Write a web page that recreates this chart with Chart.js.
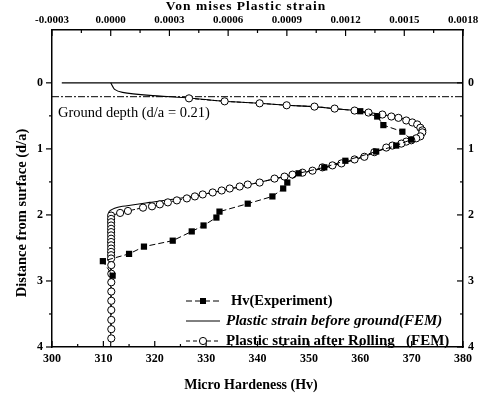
<!DOCTYPE html>
<html>
<head>
<meta charset="utf-8">
<script src="https://cdn.jsdelivr.net/npm/chart.js@4.4.1/dist/chart.umd.min.js"></script>
<style>
  html, body { margin: 0; padding: 0; background: #fff; }
  #wrap { width: 487px; height: 399px; }
</style>
</head>
<body>
<div id="wrap"><canvas id="mainChart" width="487" height="399"></canvas></div>
<script>
// --- values ---
// Hv (experiment), depth d/a vs micro hardness
const hvValues = [360.0, 363.3, 364.5, 368.2, 369.9, 367.0, 363.1, 357.1, 353.0, 348.0, 345.8, 345.0,
                  342.9, 338.1, 332.6, 332.0, 329.5, 327.2, 323.5, 317.9, 315.0, 309.9, 311.8];
const hvDepth = [0.43, 0.51, 0.64, 0.74, 0.86, 0.95, 1.04, 1.18, 1.28, 1.37, 1.51, 1.60,
                 1.72, 1.83, 1.95, 2.04, 2.16, 2.25, 2.39, 2.48, 2.59, 2.70, 2.92];

// plastic strain after rolling (FEM), open circles
const afterStrain = [0.00040, 0.000582, 0.000761, 0.000899, 0.001041, 0.001144, 0.001246, 0.001317,
  0.001388, 0.001434, 0.00147, 0.00151, 0.001541, 0.001566, 0.001582, 0.001592, 0.001592, 0.001582,
  0.001561, 0.001536, 0.00151, 0.001485, 0.001439, 0.001408, 0.001347, 0.001296, 0.001246, 0.001179,
  0.001133, 0.001082, 0.001031, 0.00098, 0.000929, 0.000888, 0.000837, 0.000761, 0.0007, 0.000659,
  0.000608, 0.000567, 0.000521, 0.00047, 0.00043, 0.000389, 0.000338, 0.000292, 0.000251, 0.000211,
  0.000165, 0.000088, 0.000048, 0.000002,
  0.000002, 0.000002, 0.000002, 0.000002, 0.000002, 0.000002, 0.000002, 0.000002, 0.000002, 0.000002,
  0.000002, 0.000002, 0.000002,
  0.000003, 0.000003, 0.000003, 0.000003, 0.000003, 0.000003, 0.000003, 0.000003, 0.000003];
const afterDepth = [0.235, 0.28, 0.31, 0.34, 0.36, 0.39, 0.42, 0.45,
  0.48, 0.51, 0.53, 0.57, 0.60, 0.63, 0.68, 0.72, 0.75, 0.81,
  0.84, 0.87, 0.89, 0.92, 0.95, 0.98, 1.05, 1.12, 1.16, 1.22,
  1.25, 1.28, 1.33, 1.36, 1.39, 1.42, 1.45, 1.51, 1.54, 1.57,
  1.60, 1.63, 1.66, 1.69, 1.72, 1.75, 1.78, 1.81, 1.84, 1.87,
  1.89, 1.94, 1.97, 2.01,
  2.06, 2.11, 2.16, 2.21, 2.26, 2.31, 2.36, 2.41, 2.46, 2.51,
  2.56, 2.61, 2.66,
  2.76, 2.89, 3.02, 3.16, 3.30, 3.44, 3.59, 3.73, 3.87];

// plastic strain before ground (FEM), solid line
const beforeStrain = [0, 0.00002, 0.00006, 0.0002, 0.0004, 0.00058, 0.00076, 0.0009, 0.00104, 0.00114,
  0.00125, 0.00132, 0.00139, 0.00147, 0.00154, 0.00158, 0.00159, 0.00158, 0.00154, 0.00148, 0.00141,
  0.0013, 0.00118, 0.00103, 0.00089, 0.00071, 0.00054, 0.00037, 0.0002, 0.00006, 0.00002, -0.00001,
  -0.00001, 0, 0];
const beforeDepth = [0, 0.10, 0.145, 0.19, 0.23, 0.28, 0.31, 0.34, 0.36, 0.39,
  0.42, 0.45, 0.48, 0.52, 0.60, 0.68, 0.74, 0.81, 0.87, 0.92, 0.98,
  1.11, 1.22, 1.33, 1.42, 1.54, 1.65, 1.74, 1.81, 1.87, 1.90, 1.96,
  2.3, 2.6, 4.0];

// reference lines: surface and ground depth
const surfaceStrain = [-0.00025, 0.0018];
const surfaceDepth = [0, 0];
const groundStrain = [-0.0003, 0.0018];
const groundDepth = [0.21, 0.21];

// axis ticks
const hvTicks = [300, 310, 320, 330, 340, 350, 360, 370, 380];
const strainTicks = [-0.0003, 0, 0.0003, 0.0006, 0.0009, 0.0012, 0.0015, 0.0018];
const depthTicks = [0, 1, 2, 3, 4];

const legendLabels = ['Hv(Experiment)', 'Plastic strain before ground(FEM)', 'Plastic strain after Rolling   (FEM)'];

const SERIF = '"Liberation Serif", "Times New Roman", serif';

const toPts = (xs, ys) => xs.map((x, i) => ({ x, y: ys[i] }));
const mids = arr => arr.slice(1).map((v, i) => (v + arr[i]) / 2);

const fixTicks = values => scale => { scale.ticks = values.map(v => ({ value: v })); };
const fixSize = (prop, size) => scale => { scale[prop] = size; };

// ticks pointing in/out, titles, legend and note drawn on top
const overlay = {
    id: 'overlay',
    afterDraw: (chart) => {
        const ctx = chart.ctx;
        const a = chart.chartArea;
        const { x, x2, y, y2 } = chart.scales;
        ctx.save();
        ctx.strokeStyle = '#000';
        ctx.lineWidth = 1.2;
        const hTick = (scale, vals, y0, len) => vals.forEach(v => {
            const px = scale.getPixelForValue(v);
            ctx.beginPath(); ctx.moveTo(px, y0); ctx.lineTo(px, y0 + len); ctx.stroke();
        });
        const vTick = (scale, vals, x0, len) => vals.forEach(v => {
            const py = scale.getPixelForValue(v);
            ctx.beginPath(); ctx.moveTo(x0, py); ctx.lineTo(x0 + len, py); ctx.stroke();
        });
        hTick(x2, strainTicks, a.top, 6);
        hTick(x2, mids(strainTicks), a.top, 3);
        hTick(x, hvTicks, a.bottom, -6);
        hTick(x, mids(hvTicks), a.bottom, -3);
        vTick(y, depthTicks, a.left, -6);
        vTick(y, mids(depthTicks), a.left, -3);
        vTick(y2, depthTicks, a.right, -6);
        vTick(y2, mids(depthTicks), a.right, -3);

        ctx.fillStyle = '#000';
        ctx.textBaseline = 'middle';

        // axis titles
        ctx.textAlign = 'center';
        ctx.font = 'bold 14px ' + SERIF;
        ctx.fillText('Micro Hardeness (Hv)', 251, 385);
        ctx.letterSpacing = '1px';
        ctx.font = 'bold 13.5px ' + SERIF;
        ctx.fillText('Von mises Plastic strain', 246, 7);
        ctx.letterSpacing = '0px';
        ctx.save();
        ctx.translate(22, 213);
        ctx.rotate(-Math.PI / 2);
        ctx.font = 'bold 14.5px ' + SERIF;
        ctx.fillText('Distance from surface (d/a)', 0, 0);
        ctx.restore();

        // note
        ctx.textAlign = 'left';
        ctx.font = '14.5px ' + SERIF;
        ctx.fillText('Ground depth (d/a = 0.21)', 58, 113);

        // legend
        const rows = [301, 321, 341];
        const textX = [231, 226, 226];
        const fonts = ['bold 14.5px ' + SERIF, 'italic bold 15px ' + SERIF, 'bold 15px ' + SERIF];
        rows.forEach((ry, i) => {
            ctx.lineWidth = 1;
            ctx.setLineDash(i === 1 ? [] : i === 0 ? [6, 3] : [4, 3]);
            ctx.beginPath(); ctx.moveTo(186, ry); ctx.lineTo(220, ry); ctx.stroke();
            ctx.setLineDash([]);
            if (i === 0) {
                ctx.fillRect(200, ry - 3, 6, 6);
            } else if (i === 2) {
                ctx.beginPath(); ctx.arc(203, ry, 3.6, 0, Math.PI * 2);
                ctx.fillStyle = '#fff'; ctx.fill(); ctx.stroke(); ctx.fillStyle = '#000';
            }
            ctx.font = fonts[i];
            ctx.fillText(legendLabels[i], textX[i], ry);
        });
        ctx.restore();
    }
};

const tickFont = { family: SERIF, size: 12, weight: 'bold' };
const axisBorder = { display: true, color: '#000', width: 1.5 };

new Chart(document.getElementById('mainChart').getContext('2d'), {
    type: 'scatter',
    data: {
        datasets: [
            {
                label: legendLabels[0],
                data: toPts(hvValues, hvDepth),
                xAxisID: 'x', yAxisID: 'y',
                showLine: true,
                borderColor: '#000', borderWidth: 1, borderDash: [6, 3],
                pointStyle: 'rect', pointRadius: 4.4,
                pointBackgroundColor: '#000', pointBorderColor: '#000', pointBorderWidth: 0
            },
            {
                label: legendLabels[2],
                data: toPts(afterStrain, afterDepth),
                xAxisID: 'x2', yAxisID: 'y',
                showLine: true,
                borderColor: '#000', borderWidth: 1, borderDash: [4, 2],
                pointStyle: 'circle', pointRadius: 3.6,
                pointBackgroundColor: '#fff', pointBorderColor: '#000', pointBorderWidth: 1
            },
            {
                label: legendLabels[1],
                data: toPts(beforeStrain, beforeDepth),
                xAxisID: 'x2', yAxisID: 'y',
                showLine: true, tension: 0.2,
                borderColor: '#000', borderWidth: 1.1, pointRadius: 0
            },
            {
                label: 'surface',
                data: toPts(surfaceStrain, surfaceDepth),
                xAxisID: 'x2', yAxisID: 'y',
                showLine: true, borderColor: '#000', borderWidth: 1.1, pointRadius: 0
            },
            {
                label: 'ground',
                data: toPts(groundStrain, groundDepth),
                xAxisID: 'x2', yAxisID: 'y',
                showLine: true, borderColor: '#000', borderWidth: 1, borderDash: [7, 2, 2, 2], pointRadius: 0
            }
        ]
    },
    options: {
        responsive: false,
        animation: false,
        devicePixelRatio: 1,
        layout: { padding: 0 },
        plugins: { legend: { display: false }, tooltip: { enabled: false } },
        scales: {
            x: {
                type: 'linear', position: 'bottom', min: 300, max: 380,
                afterBuildTicks: fixTicks(hvTicks), afterFit: fixSize('height', 52),
                grid: { display: false, drawTicks: false }, border: axisBorder,
                ticks: { font: tickFont, color: '#000', padding: 5, maxRotation: 0 }
            },
            x2: {
                type: 'linear', position: 'top', min: -0.0003, max: 0.0018,
                afterBuildTicks: fixTicks(strainTicks), afterFit: fixSize('height', 30),
                grid: { display: false, drawTicks: false }, border: axisBorder,
                ticks: { font: { family: SERIF, size: 11, weight: 'bold' }, color: '#000', padding: 3, maxRotation: 0, callback: v => v.toFixed(4) }
            },
            y: {
                type: 'linear', position: 'left', min: -0.8, max: 4, reverse: true,
                afterBuildTicks: fixTicks(depthTicks), afterFit: fixSize('width', 52),
                grid: { display: false, drawTicks: false }, border: axisBorder,
                ticks: { font: tickFont, color: '#000', padding: 9 }
            },
            y2: {
                type: 'linear', position: 'right', min: -0.8, max: 4, reverse: true,
                afterBuildTicks: fixTicks(depthTicks), afterFit: fixSize('width', 24),
                grid: { display: false, drawTicks: false }, border: axisBorder,
                ticks: { font: tickFont, color: '#000', padding: 5 }
            }
        }
    },
    plugins: [overlay]
});
</script>
</body>
</html>
